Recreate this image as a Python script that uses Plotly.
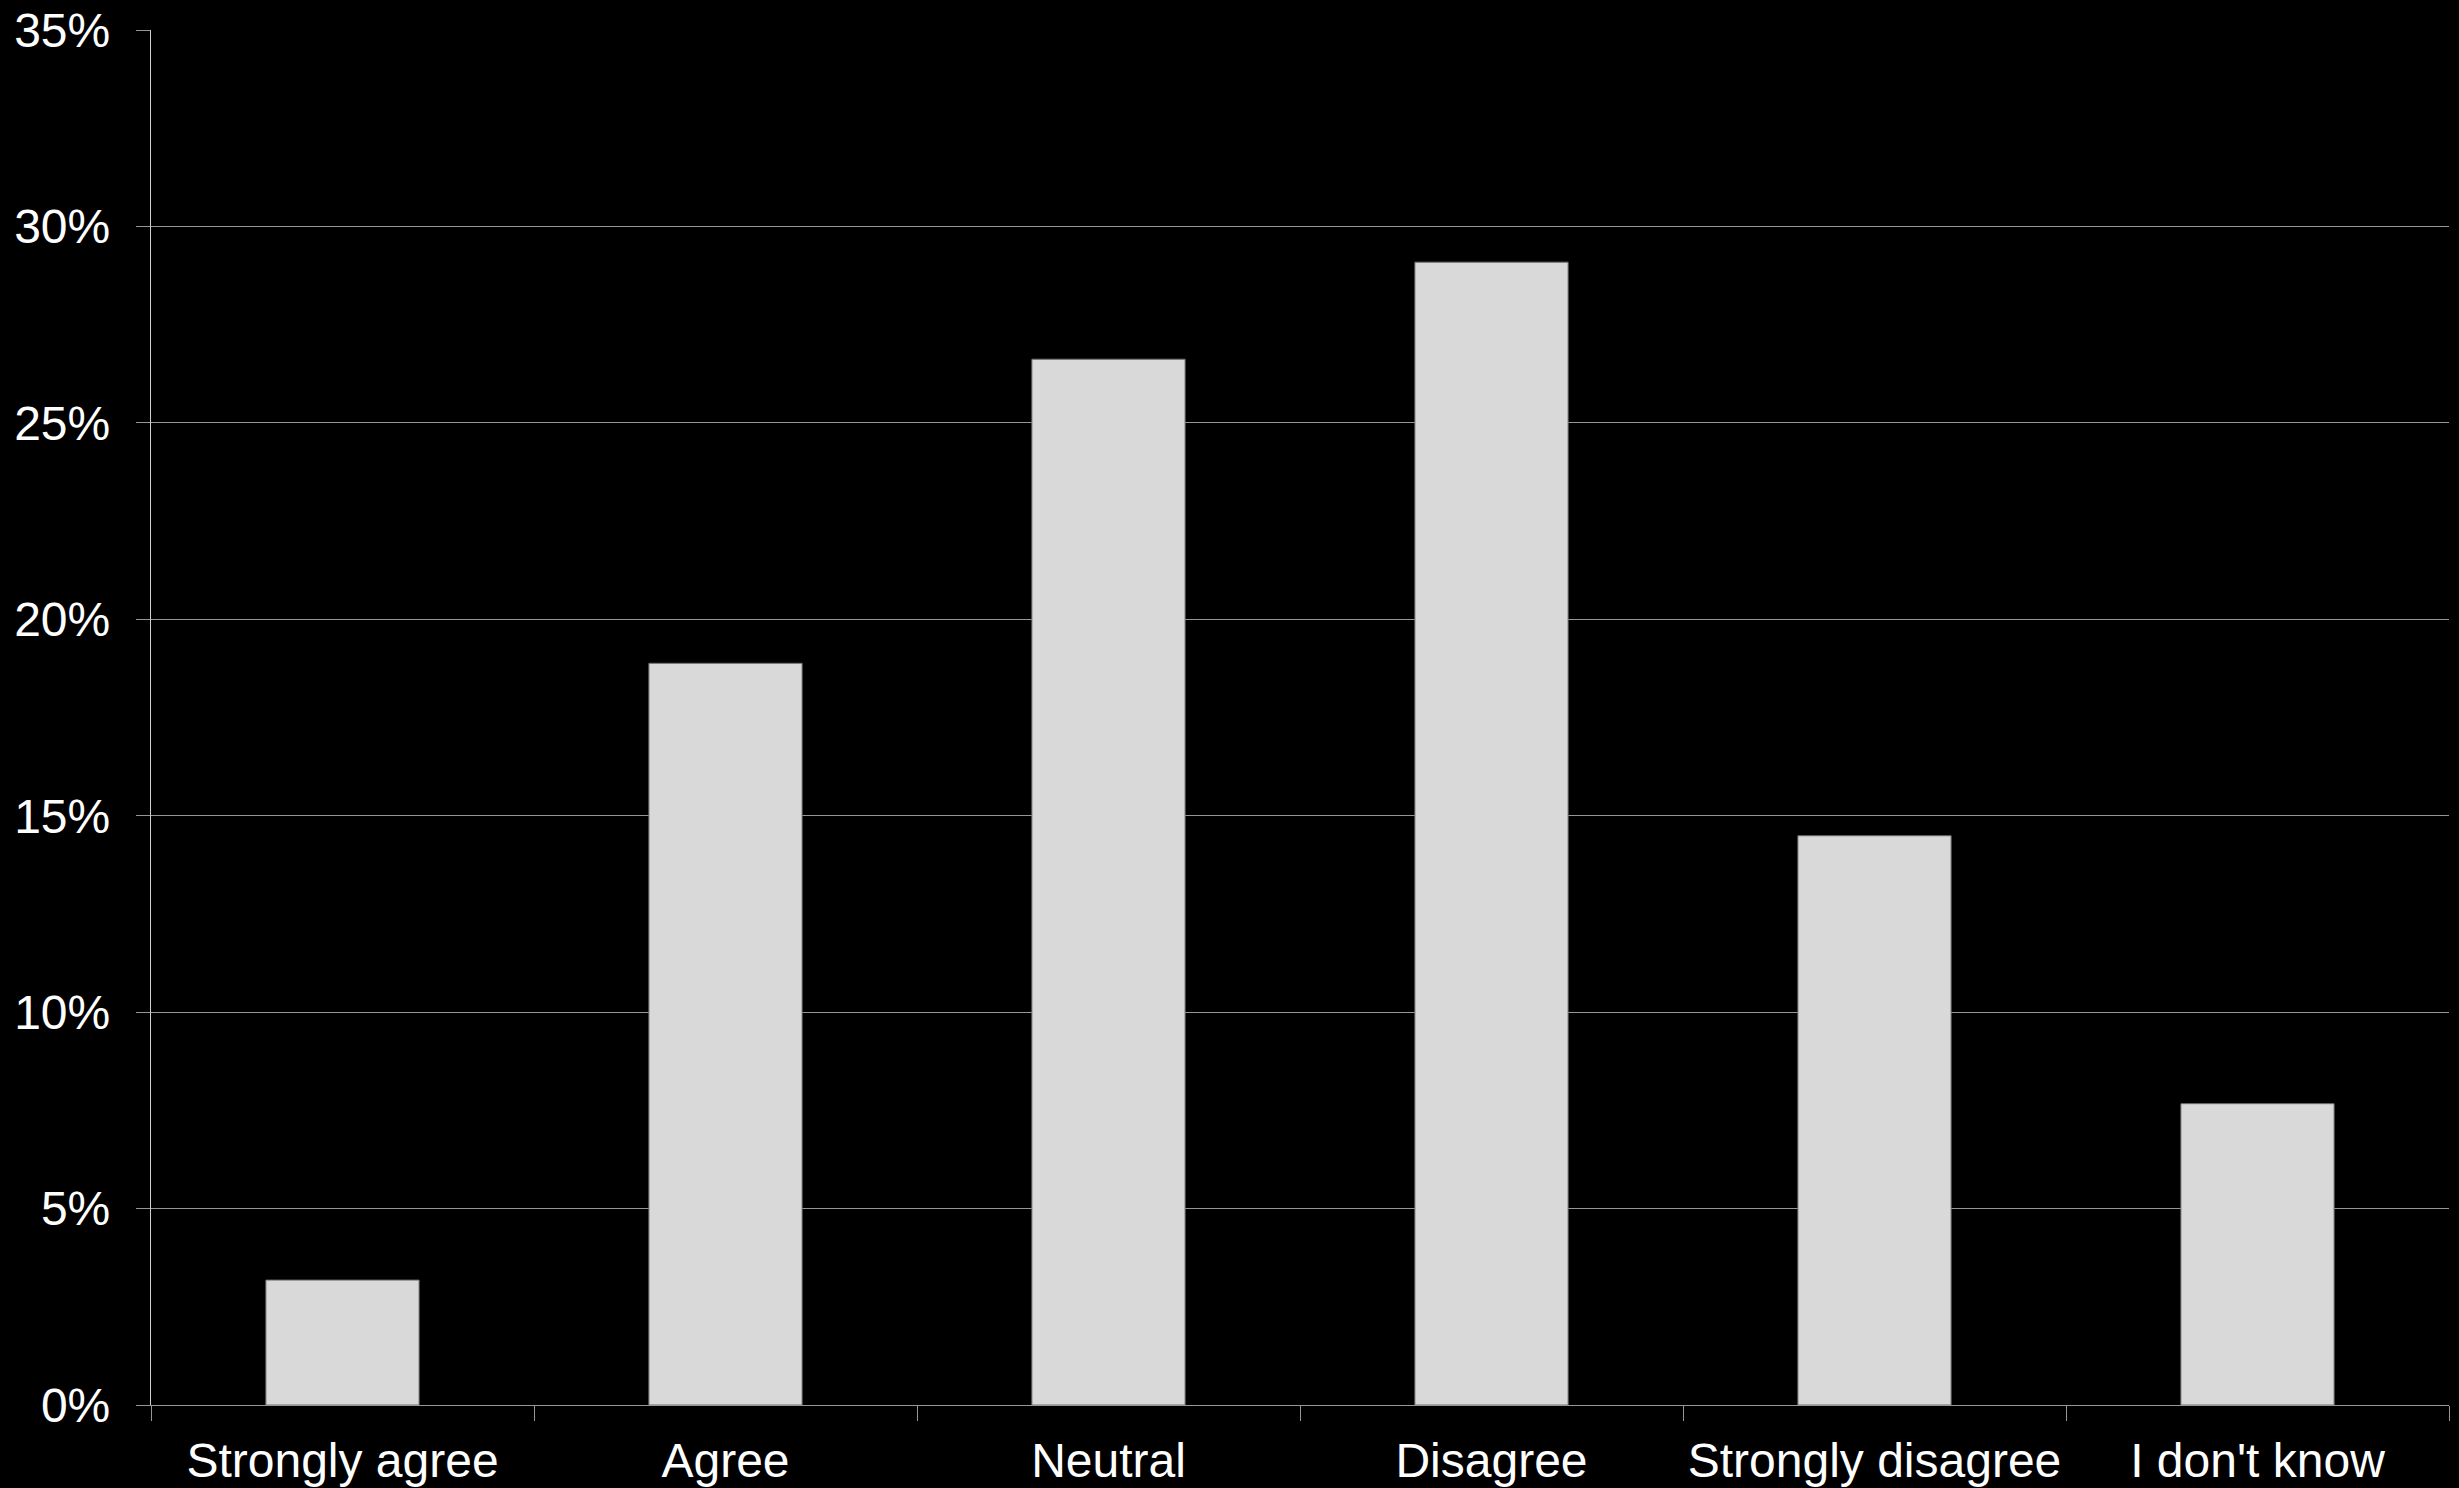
import plotly.graph_objects as go

categories = ["Strongly agree", "Agree", "Neutral", "Disagree", "Strongly disagree", "I don't know"]
values = [3.18, 18.88, 26.62, 29.09, 14.49, 7.67]
y_ticks = [0, 5, 10, 15, 20, 25, 30, 35]
y_tick_labels = ["0%", "5%", "10%", "15%", "20%", "25%", "30%", "35%"]

FONT = "Liberation Sans, Arial, sans-serif"
GRID = "#969696"

fig = go.Figure(
    go.Bar(
        x=categories,
        y=values,
        marker=dict(color="#d9d9d9", line=dict(color="#6e6e6e", width=1)),
        hoverinfo="skip",
    )
)

fig.update_layout(
    width=2459,
    height=1488,
    margin=dict(l=151, r=10, t=30, b=83),
    paper_bgcolor="#000000",
    plot_bgcolor="#000000",
    bargap=0.6,
    showlegend=False,
    font=dict(family=FONT, size=48, color="#ffffff"),
)

fig.update_xaxes(
    type="category",
    automargin=False,
    showgrid=False,
    showline=True,
    linecolor=GRID,
    linewidth=1.3,
    ticks="outside",
    tickson="boundaries",
    ticklen=15,
    tickcolor=GRID,
    tickwidth=1.3,
    ticklabelstandoff=13,
    tickfont=dict(family=FONT, size=48, color="#ffffff"),
    zeroline=False,
)

fig.update_yaxes(
    range=[0, 35],
    automargin=False,
    tickmode="array",
    tickvals=y_ticks,
    ticktext=y_tick_labels,
    showgrid=True,
    gridcolor=GRID,
    gridwidth=1.3,
    showline=True,
    linecolor="#d0d0d0",
    linewidth=1.3,
    ticks="outside",
    ticklen=14,
    tickcolor=GRID,
    tickwidth=1.3,
    ticklabelstandoff=16,
    zeroline=False,
    tickfont=dict(family=FONT, size=48, color="#ffffff"),
)

fig.write_html(
    "out.html",
    config={"displayModeBar": False},
    post_script="document.body.style.margin='0';document.body.style.background='#000';",
)
